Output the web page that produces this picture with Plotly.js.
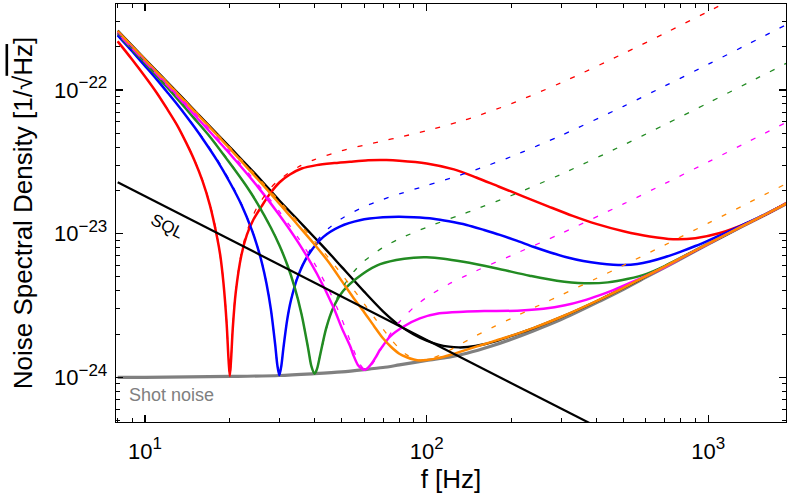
<!DOCTYPE html>
<html>
<head>
<meta charset="utf-8">
<script src="https://cdn.plot.ly/plotly-3.0.1.min.js"></script>
<style>
  html, body { margin: 0; padding: 0; background: #fff; }
  #chart { width: 787px; height: 496px; }
</style>
</head>
<body>
<div id="chart"></div>
<script>
// Noise amplitudes below are in units of 1e-24 / sqrt(Hz)
const UNIT = 1e-24;

// Shot noise
const shotF = [8, 10, 20, 30, 40, 50, 60, 70, 80, 100, 120, 139, 170, 200, 239, 300, 413, 500, 604, 750, 1000, 1300, 1600, 1900];
const shotV = [1.0, 1.0, 1.015, 1.03, 1.06, 1.09, 1.13, 1.17, 1.22, 1.31, 1.38, 1.47, 1.65, 1.84, 2.1, 2.52, 3.40, 4.1, 5.0, 6.25, 8.45, 11.05, 13.6, 16.2];

// Standard quantum limit
const sqlF = [8, 400];
const sqlV = [22.8, 0.455];

// Conventional readout
const blackF = [8, 10, 12, 15, 20, 25, 30, 35, 40, 45, 50, 60, 70, 80, 90, 100, 110, 120, 130, 140, 160, 180, 200, 240, 300, 413, 500, 604, 750, 1000, 1300, 1600, 1900];
const blackV = [259, 164, 113.5, 72, 40, 25.3, 17.0, 12.4, 9.4, 7.35, 5.85, 3.95, 2.88, 2.3, 1.99, 1.80, 1.69, 1.635, 1.615, 1.625, 1.70, 1.81, 1.94, 2.2, 2.62, 3.48, 4.19, 5.08, 6.32, 8.5, 11.1, 13.65, 16.25];

// Solid curves
const redF = [8, 9, 10, 11, 12, 13, 14, 15, 16, 17, 18, 18.5, 19, 19.5, 19.8, 20, 20.2, 20.5, 21, 22, 23, 24.2, 26, 27.8, 30, 32.7, 36, 40.7, 47, 53.5, 62, 72, 80, 100, 125, 150, 180, 220, 270, 330, 400, 500, 620, 750, 900, 1100, 1350, 1600, 1900];
const redV = [218, 163, 124, 95.6, 73.5, 57, 43, 32.2, 23.3, 15.8, 9.6, 7.1, 4.5, 2.35, 1.33, 1.02, 1.3, 2.2, 3.9, 7.1, 9.8, 12.4, 15.6, 19.0, 22.7, 25.8, 28.4, 30.0, 31.0, 31.7, 32.4, 32.5, 32.2, 30.8, 28.0, 24.6, 21.3, 18.2, 15.5, 13.3, 11.7, 10.4, 9.55, 9.15, 9.3, 10.1, 11.7, 13.6, 16.4];

const blueF = [8, 9, 10, 11, 12, 13, 14, 15, 16, 18, 20, 22, 24, 25, 26, 27, 28, 29, 29.5, 30, 30.5, 31, 32, 33, 35, 38, 43, 49.2, 57.9, 70, 80, 90, 105.6, 120, 138.7, 160, 182, 210, 239, 275, 314, 360, 413, 460, 500, 560, 620, 700, 800, 900, 1000, 1150, 1300, 1600, 1900];
const blueV = [240, 186, 147, 118.5, 96.5, 79.6, 66, 55, 46, 32.5, 22.8, 15.9, 10.5, 8.25, 6.28, 4.5, 2.96, 1.68, 1.22, 1.034, 1.21, 1.59, 2.53, 3.45, 5.1, 7.1, 9.5, 11.2, 12.4, 13.0, 13.1, 13.0, 12.7, 12.2, 11.5, 10.6, 9.8, 8.9, 8.1, 7.4, 6.85, 6.45, 6.2, 6.08, 6.05, 6.15, 6.4, 6.85, 7.5, 8.2, 8.95, 10.1, 11.3, 13.7, 16.3];

const greenF = [8, 10, 12, 15, 17, 20, 23, 25, 28, 30, 32, 34, 36, 38, 39, 40, 40.5, 41, 42, 44, 46.6, 50.6, 56.5, 66.5, 78, 90, 100, 115, 135, 176, 232, 290, 363, 440, 520, 604, 700, 800, 926, 1042, 1300, 1600, 1900];
const greenV = [246, 154, 104, 63, 47.3, 31, 21.2, 16.4, 11.0, 8.3, 6.07, 4.23, 2.73, 1.57, 1.19, 1.06, 1.1, 1.18, 1.47, 2.2, 3.05, 4.0, 4.9, 6.0, 6.55, 6.8, 6.84, 6.7, 6.37, 5.74, 5.1, 4.7, 4.52, 4.58, 4.85, 5.25, 5.95, 6.8, 7.9, 8.85, 11.1, 13.65, 16.25];

const magentaF = [8, 10, 12, 15, 20, 25, 30, 35, 40.7, 46.6, 50, 53.5, 55, 57, 59, 60, 61, 62, 64, 66, 68.2, 70, 74.1, 82.6, 94.6, 111, 135, 160, 210, 260, 310, 360, 410, 460, 520, 604, 700, 800, 1000, 1300, 1600, 1900];
const magentaV = [250, 158, 108, 67, 36, 21.5, 13.5, 8.7, 5.3, 3.1, 2.2, 1.65, 1.42, 1.22, 1.145, 1.13, 1.14, 1.17, 1.26, 1.38, 1.55, 1.66, 1.92, 2.25, 2.57, 2.79, 2.86, 2.89, 2.91, 3.0, 3.17, 3.42, 3.72, 4.05, 4.48, 5.1, 5.85, 6.75, 8.5, 11.1, 13.65, 16.25];

const orangeF = [8, 10, 12, 15, 20, 25, 30, 35, 40, 45, 50, 55, 60, 65, 70, 75, 80, 85, 90, 95, 100, 110, 121, 139, 160, 182, 200, 240, 300, 413, 500, 604, 750, 1000, 1300, 1600, 1900];
const orangeV = [257, 162.5, 112, 71, 39.1, 24.2, 16.2, 11.4, 8.4, 6.3, 4.67, 3.57, 2.84, 2.28, 1.87, 1.62, 1.46, 1.38, 1.33, 1.31, 1.32, 1.36, 1.43, 1.56, 1.70, 1.84, 1.95, 2.21, 2.63, 3.49, 4.2, 5.09, 6.33, 8.51, 11.1, 13.65, 16.25];

// Dashed curves
const redDashF = [8, 10, 12, 14, 15, 16, 17, 18, 19, 19.5, 20, 20.5, 21, 22, 23, 25, 28, 30, 35, 40, 50, 60, 70, 80, 100, 130, 150, 200, 300, 500, 700, 1000, 1400];
const redDashV = [217.8, 124.7, 74.0, 43.4, 32.5, 23.5, 16.1, 9.88, 4.64, 2.41, 1.015, 2.26, 4.04, 7.38, 10.34, 15.27, 20.86, 23.75, 29.1, 32.8, 37.8, 41.3, 44.2, 46.9, 52.0, 60.0, 65.6, 80.4, 112.2, 179.3, 248, 352, 491];

const blueDashF = [8, 10, 12, 15, 18, 20, 22, 24, 25, 26, 27, 28, 29, 29.5, 30, 30.5, 31, 32, 33, 35, 38, 40, 45, 50, 60, 70, 80, 100, 130, 150, 200, 300, 500, 700, 1000, 1400, 1900];
const blueDashV = [240.9, 147.8, 97.1, 55.6, 33.1, 23.3, 16.1, 10.59, 8.32, 6.32, 4.535, 2.973, 1.683, 1.22, 1.034, 1.206, 1.586, 2.527, 3.469, 5.19, 7.33, 8.53, 10.94, 12.76, 15.40, 17.32, 18.91, 21.63, 25.40, 27.92, 34.4, 48.2, 77.0, 106.5, 151.1, 210.8, 285.7];

const greenDashF = [8, 10, 12, 15, 18, 20, 25, 28, 30, 32, 34, 36, 38, 39, 40, 41, 42, 45, 48, 50, 55, 60, 70, 80, 100, 130, 150, 200, 300, 500, 700, 1000, 1400, 1900];
const greenDashV = [248.9, 155.8, 105.2, 63.7, 41.2, 31.4, 16.48, 11.07, 8.33, 6.09, 4.24, 2.734, 1.573, 1.195, 1.059, 1.183, 1.468, 2.536, 3.54, 4.14, 5.41, 6.44, 8.01, 9.20, 11.07, 13.37, 14.82, 18.43, 25.88, 41.4, 57.3, 81.3, 113.5, 153.7];

const magentaDashF = [8, 10, 12, 15, 20, 25, 30, 35, 40, 45, 48, 50, 52, 55, 57, 58, 60, 61, 62, 63, 65, 70, 75, 80, 90, 100, 120, 150, 200, 300, 500, 700, 1000, 1400, 1900];
const magentaDashV = [254.6, 161.5, 110.9, 69.5, 37.3, 22.36, 14.26, 9.36, 6.19, 4.04, 3.07, 2.54, 2.085, 1.556, 1.315, 1.231, 1.14, 1.132, 1.146, 1.178, 1.283, 1.659, 2.056, 2.425, 3.07, 3.60, 4.46, 5.51, 7.05, 10.02, 16.1, 22.27, 31.6, 44.1, 59.8];

const orangeDashF = [8, 10, 12, 15, 20, 25, 30, 35, 40, 45, 50, 55, 60, 65, 70, 75, 80, 85, 90, 95, 100, 105, 110, 120, 130, 150, 175, 200, 250, 300, 400, 500, 700, 1000, 1400, 1900];
const orangeDashV = [257.2, 164.1, 113.5, 72.1, 39.9, 24.98, 16.90, 12.02, 8.88, 6.73, 5.20, 4.08, 3.25, 2.63, 2.166, 1.824, 1.586, 1.433, 1.349, 1.318, 1.326, 1.360, 1.410, 1.536, 1.674, 1.950, 2.271, 2.572, 3.162, 3.733, 4.873, 6.02, 8.33, 11.83, 16.51, 22.37];

// Axis ticks
const sup = s => '10<sup><span style="font-size:17px">' + s + '</span></sup>';
const xMajor = [10, 100, 1000];
const xMajorText = [sup('1'), sup('2'), sup('3')];
const xMinor = [8, 9, 20, 30, 40, 50, 60, 70, 80, 90, 200, 300, 400, 500, 600, 700, 800, 900];
const yMajor = [1e-24, 1e-23, 1e-22];
const yMajorText = [sup('\u221224'), sup('\u221223'), sup('\u221222')];
const yMinor = [5e-25, 6e-25, 7e-25, 8e-25, 9e-25,
  2e-24, 3e-24, 4e-24, 5e-24, 6e-24, 7e-24, 8e-24, 9e-24,
  2e-23, 3e-23, 4e-23, 5e-23, 6e-23, 7e-23, 8e-23, 9e-23,
  2e-22, 3e-22];

const COLORS = {
  red: '#FF0000', blue: '#0000FF', green: '#228B22',
  magenta: '#FF00FF', orange: '#FF8800', black: '#000000', gray: '#808080'
};

const scale = arr => arr.map(v => v * UNIT);

function curve(f, v, color, width, dash) {
  return {
    x: f, y: scale(v), type: 'scatter', mode: 'lines',
    line: { color: color, width: width, dash: dash || 'solid', shape: 'spline', smoothing: 0.8 },
    hoverinfo: 'skip'
  };
}

const DASH = '5px,11px';
const traces = [
  curve(shotF, shotV, COLORS.gray, 3.2),
  curve(blackF, blackV, COLORS.black, 2.4),
  curve(redF, redV, COLORS.red, 2.5),
  curve(blueF, blueV, COLORS.blue, 2.5),
  curve(greenF, greenV, COLORS.green, 2.5),
  curve(magentaF, magentaV, COLORS.magenta, 2.5),
  curve(orangeF, orangeV, COLORS.orange, 2.5),
  curve(redDashF, redDashV, COLORS.red, 1.3, DASH),
  curve(blueDashF, blueDashV, COLORS.blue, 1.3, DASH),
  curve(greenDashF, greenDashV, COLORS.green, 1.3, DASH),
  curve(magentaDashF, magentaDashV, COLORS.magenta, 1.3, DASH),
  curve(orangeDashF, orangeDashV, COLORS.orange, 1.3, DASH),
  { x: sqlF, y: scale(sqlV), type: 'scatter', mode: 'lines',
    line: { color: COLORS.black, width: 2.2 }, hoverinfo: 'skip' }
];

const axisCommon = {
  type: 'log',
  showline: true, linecolor: '#000', linewidth: 1.3, mirror: 'allticks',
  ticks: 'inside', ticklen: 7, tickwidth: 1.3, tickcolor: '#000',
  showgrid: false, zeroline: false,
  tickfont: { size: 22, color: '#000' },
  tickmode: 'array'
};

const layout = {
  width: 787, height: 496,
  margin: { l: 116, r: 1, t: 4, b: 74 },
  paper_bgcolor: '#fff', plot_bgcolor: '#fff',
  showlegend: false,
  font: { family: 'Liberation Sans, Arial, sans-serif', color: '#000' },
  xaxis: Object.assign({}, axisCommon, {
    range: [Math.log10(7.89), Math.log10(1888)],
    tickvals: xMajor, ticktext: xMajorText,
    ticklabelstandoff: 9,
    minor: { tickmode: 'array', tickvals: xMinor, ticks: 'inside', ticklen: 4, tickwidth: 1, tickcolor: '#000' },
    title: { text: 'f [Hz]', font: { size: 26 }, standoff: 5 }
  }),
  yaxis: Object.assign({}, axisCommon, {
    range: [-24.311, -21.4015],
    tickvals: yMajor, ticktext: yMajorText,
    ticklabelstandoff: 3,
    minor: { tickmode: 'array', tickvals: yMinor, ticks: 'inside', ticklen: 4, tickwidth: 1, tickcolor: '#000' },
    title: { text: 'Noise Spectral Density [1/\u221A<span style="text-decoration:overline">Hz</span>]', font: { size: 26 }, standoff: 14 }
  }),
  annotations: [
    { x: Math.log10(12.0), y: Math.log10(11.2e-24), xref: 'x', yref: 'y',
      text: 'SQL', showarrow: false, textangle: 27,
      font: { size: 17, color: '#000' } },
    { x: Math.log10(8.61), y: Math.log10(0.753e-24), xref: 'x', yref: 'y',
      text: 'Shot noise', showarrow: false, xanchor: 'left', yanchor: 'middle',
      font: { size: 18, color: COLORS.gray } }
  ]
};

Plotly.newPlot('chart', traces, layout, { staticPlot: true, displayModeBar: false });
</script>
</body>
</html>
